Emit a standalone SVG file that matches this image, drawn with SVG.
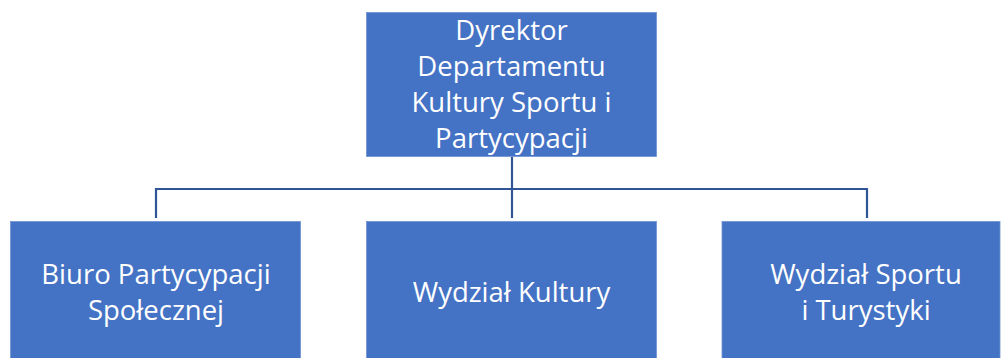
<svg xmlns="http://www.w3.org/2000/svg" width="1002" height="358" viewBox="0 0 1002 358">
<style>
.box{fill:#4472C4;stroke:#6F93D3;stroke-width:0.8}
.lbl{font-family:"Open Sans","Liberation Sans",sans-serif;font-size:27.5px;fill:#ffffff;text-anchor:middle}
.conn{fill:none;stroke:#2F5597;stroke-width:2.2}
</style>
<rect width="1002" height="358" fill="#ffffff"/>
<g id="connectors">
<path class="conn" d="M512,157 V189 M156,218 V189 H867 V218 M512,189 V218"/>
</g>
<g id="director">
<rect class="box" x="366.5" y="12.5" width="290" height="144"/>
<text class="lbl" x="511.5" y="40">Dyrektor</text>
<text class="lbl" x="511.5" y="76">Departamentu</text>
<text class="lbl" x="511.5" y="112">Kultury Sportu i</text>
<text class="lbl" x="511.5" y="148">Partycypacji</text>
</g>
<g id="biuro">
<rect class="box" x="10.5" y="221.5" width="290" height="140"/>
<text class="lbl" x="156" y="284">Biuro Partycypacji</text>
<text class="lbl" x="156" y="320">Społecznej</text>
</g>
<g id="kultura">
<rect class="box" x="366.5" y="221.5" width="290" height="140"/>
<text class="lbl" x="511.5" y="302">Wydział Kultury</text>
</g>
<g id="sport">
<rect class="box" x="722" y="221.5" width="278" height="140"/>
<text class="lbl" x="866" y="284">Wydział Sportu</text>
<text class="lbl" x="866" y="320">i Turystyki</text>
</g>
</svg>
